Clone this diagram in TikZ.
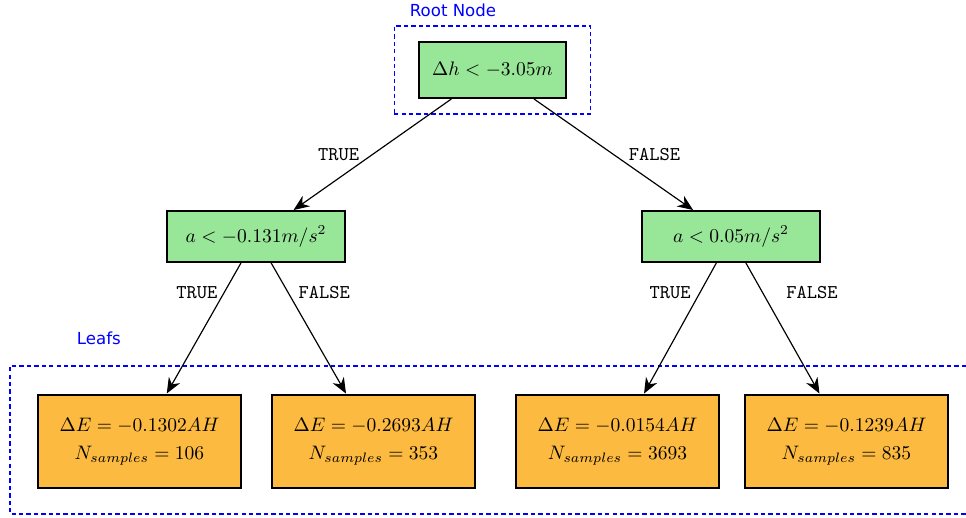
\documentclass[tikz,border=0pt]{standalone}
\usepackage{fontspec}
\usepackage{tikz}
\usetikzlibrary{arrows.meta,positioning,fit}
\newfontfamily\regionfont{DejaVu Sans}
\definecolor{splitgreen}{HTML}{98E698}
\definecolor{leaforange}{HTML}{FCBA40}
\tikzset{
  splitbox/.style={draw=black,fill=splitgreen,line width=1pt,
    minimum width=3.204cm,minimum height=0.918cm},
  leafbox/.style={draw=black,fill=leaforange,line width=1.5pt,align=center,
    minimum width=3.654cm,minimum height=1.674cm,font=\fontsize{10}{14.3}\selectfont},
  brancharrow/.style={-{Stealth[length=2.8mm,width=2.3mm,inset=0.9mm]},line width=0.6pt},
  branchlabel/.style={font=\ttfamily,inner sep=0pt},
  regionbox/.style={draw=blue,dash pattern=on 2.2pt off 1.6pt,line width=0.6pt},
  regionlabel/.style={text=blue,font=\regionfont\fontsize{8.5}{10}\selectfont}
}

\begin{document}
\begin{tikzpicture}[x=1cm,y=1cm]
  \useasboundingbox (0,0) rectangle (17.388,-9.324);
  % split nodes
  \node[splitbox,minimum width=2.646cm,minimum height=1.008cm] (root) at (8.865,-1.26)
    {$\Delta h < -3.05m$};
  \node[splitbox] (accleft) at (4.608,-4.257) {$a < -0.131m/s^2$};
  \node[splitbox] (accright) at (13.158,-4.257) {$a < 0.05m/s^2$};
  % leafs
  \node[leafbox] (leafa) at (2.511,-7.947) {$\Delta E = -0.1302AH$\\$N_{samples} = 106$};
  \node[leafbox] (leafb) at (6.723,-7.947) {$\Delta E = -0.2693AH$\\$N_{samples} = 353$};
  \node[leafbox] (leafc) at (11.115,-7.947) {$\Delta E = -0.0154AH$\\$N_{samples} = 3693$};
  \node[leafbox] (leafd) at (15.237,-7.947) {$\Delta E = -0.1239AH$\\$N_{samples} = 835$};
  % regions
  \node[regionbox,fit=(root),inner xsep=0.43cm,inner ysep=0.27cm] (rootregion) {};
  \node[regionlabel] (rootlabel) at (8.154,-0.18) {Root Node};
  \coordinate (leaftopright) at (17.388,-6.588);
  \coordinate (leafbotright) at (17.388,-9.252);
  \draw[regionbox] (leaftopright) -| (0.18,-9.252) -- (leafbotright);
  \node[regionlabel] (leaflabel) at (1.78,-6.084) {Leafs};
  % branches
  \draw[brancharrow] (root) -- node[branchlabel,left=6.6pt] {TRUE} (accleft);
  \draw[brancharrow] (root) -- node[branchlabel,right=7.5pt] {FALSE} (accright);
  \draw[brancharrow] (accleft) -- node[branchlabel,pos=0.23,left=3pt] {TRUE} (leafa);
  \draw[brancharrow] (accleft) -- node[branchlabel,pos=0.23,right=5pt] {FALSE} (leafb);
  \draw[brancharrow] (accright) -- node[branchlabel,pos=0.23,left=4.3pt] {TRUE} (leafc);
  \draw[brancharrow] (accright) -- node[branchlabel,pos=0.23,right=11.7pt] {FALSE} (leafd);
\end{tikzpicture}
\end{document}
